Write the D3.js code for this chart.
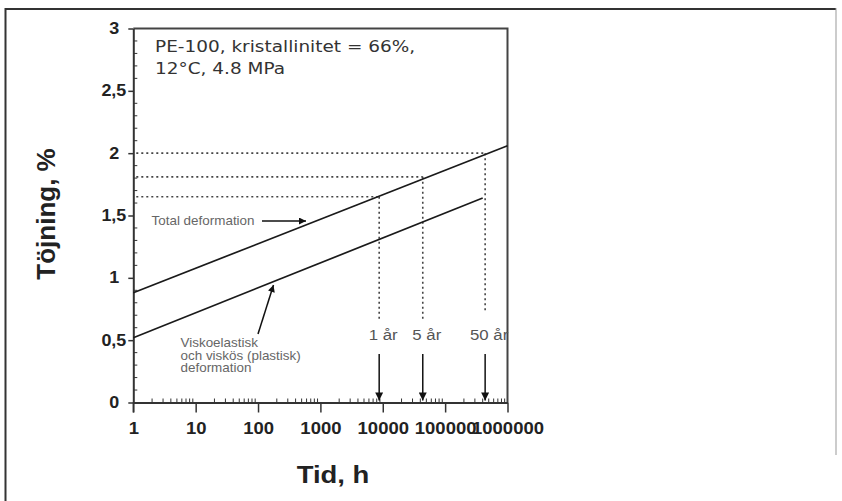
<!DOCTYPE html>
<html>
<head>
<meta charset="utf-8">
<script src="https://cdn.jsdelivr.net/npm/d3@7"></script>
<style>
  body { margin: 0; background: #fff; }
  svg { display: block; font-family: "Liberation Sans", Arial, sans-serif; }
  .tick text { font-family: "Liberation Sans", Arial, sans-serif; font-weight: bold; fill: #222; }
</style>
</head>
<body>
<svg width="842" height="501"></svg>
<script>
var width = 842;
var height = 501;

// Strain curves (time in hours, strain in %)
var totalTime = [1, 1000000];
var totalStrain = [0.88, 2.06];
var viscoTime = [1, 400000];
var viscoStrain = [0.52, 1.64];

// Service-life markers on the total deformation line
var markLabels = ["1 år", "5 år", "50 år"];
var markTime = [8760, 43800, 438000];
var markStrain = [1.65, 1.81, 2.0];
var dropEnd = [0.65, 0.66, 0.72];

var xTicks = [1, 10, 100, 1000, 10000, 100000, 1000000];
var yTicks = [0, 0.5, 1, 1.5, 2, 2.5, 3];

var infoLines = ["PE-100, kristallinitet = 66%,", "12°C, 4.8 MPa"];
var viscoLines = ["Viskoelastisk", "och viskös (plastisk)", "deformation"];

var plot = { l: 133.3, r: 507.5, t: 28.5, b: 402.5 };
var sx = 1.12; // type in this figure is set a bit wide

var svg = d3.select("svg");

var xScale = d3.scaleLog().domain([1, 1000000]).range([plot.l, plot.r]);
var yScale = d3.scaleLinear().domain([0, 3]).range([plot.b, plot.t]);

var defs = svg.append("defs");
defs.append("marker")
    .attr("id", "head")
    .attr("viewBox", "0 0 10 10")
    .attr("refX", 10)
    .attr("refY", 5)
    .attr("markerWidth", 12)
    .attr("markerHeight", 7)
    .attr("markerUnits", "userSpaceOnUse")
    .attr("orient", "auto")
    .append("path")
    .attr("d", "M0,0 L10,5 L0,10 Z")
    .attr("fill", "#111");
defs.append("marker")
    .attr("id", "headTall")
    .attr("viewBox", "0 0 10 10")
    .attr("refX", 10)
    .attr("refY", 5)
    .attr("markerWidth", 15)
    .attr("markerHeight", 8)
    .attr("markerUnits", "userSpaceOnUse")
    .attr("orient", "auto")
    .append("path")
    .attr("d", "M0,0 L10,5 L0,10 Z")
    .attr("fill", "#111");

// outer border
svg.append("line").attr("x1", 5.5).attr("y1", 9).attr("x2", 836).attr("y2", 9)
    .attr("stroke", "#333").attr("stroke-width", 2);
svg.append("line").attr("x1", 5.5).attr("y1", 8).attr("x2", 5.5).attr("y2", 501)
    .attr("stroke", "#333").attr("stroke-width", 2);
svg.append("line").attr("x1", 836).attr("y1", 8).attr("x2", 836).attr("y2", 455)
    .attr("stroke", "#999").attr("stroke-width", 1);

function wideText(parent, x, y, str) {
    return parent.append("text")
        .attr("transform", "translate(" + x + "," + y + ") scale(" + sx + ",1)")
        .text(str);
}

// frame top and right
svg.append("path")
    .attr("d", "M" + plot.l + "," + plot.t + "H" + plot.r + "V" + plot.b)
    .attr("fill", "none")
    .attr("stroke", "#444")
    .attr("stroke-width", 2);

// minor ticks
var xMinor = [];
for (var d = 1; d < 1000000; d *= 10) {
    for (var k = 2; k <= 9; k++) xMinor.push(d * k);
}
svg.append("g").selectAll("line")
    .data(xMinor)
    .enter()
    .append("line")
    .attr("x1", d => xScale(d)).attr("x2", d => xScale(d))
    .attr("y1", plot.b).attr("y2", plot.b - 4)
    .attr("stroke", "#333").attr("stroke-width", 1);

var yMinor = d3.range(1, 30).filter(i => i % 5 != 0).map(i => i / 10);
svg.append("g").selectAll("line")
    .data(yMinor)
    .enter()
    .append("line")
    .attr("x1", plot.l).attr("x2", plot.l + 4)
    .attr("y1", d => yScale(d)).attr("y2", d => yScale(d))
    .attr("stroke", "#333").attr("stroke-width", 1);

// axes
var xAxis = d3.axisBottom(xScale)
    .tickValues(xTicks)
    .tickFormat(d3.format("d"))
    .tickSize(10)
    .tickSizeOuter(0);
var gx = svg.append("g")
    .attr("transform", "translate(0," + plot.b + ")")
    .call(xAxis);
gx.select(".domain").attr("stroke", "#333").attr("stroke-width", 2);
gx.selectAll(".tick line").attr("stroke", "#333").attr("stroke-width", 1.5);
gx.selectAll(".tick text")
    .attr("y", 0)
    .attr("dy", 0)
    .attr("transform", "translate(0,31) scale(" + sx + ",1)")
    .style("font-size", "16.5px");

var yAxis = d3.axisLeft(yScale)
    .tickValues(yTicks)
    .tickFormat(d => (d % 1 == 0 ? String(d) : d3.format(".1f")(d).replace(".", ",")))
    .tickSize(5)
    .tickSizeOuter(0);
var gy = svg.append("g")
    .attr("transform", "translate(" + plot.l + ",0)")
    .call(yAxis);
gy.select(".domain").attr("stroke", "#333").attr("stroke-width", 2);
gy.selectAll(".tick line").attr("stroke", "#333").attr("stroke-width", 1.5);
gy.selectAll(".tick text")
    .attr("x", 0)
    .attr("transform", d => "translate(" + (d % 1 == 0 ? -14 : -7) + ",0) scale(" + sx + ",1)")
    .style("font-size", "16px");
// y axis runs on down to the major tick at x = 1
svg.append("line")
    .attr("x1", plot.l).attr("x2", plot.l)
    .attr("y1", plot.b).attr("y2", plot.b + 10)
    .attr("stroke", "#333").attr("stroke-width", 1.5);

// guide lines to the service-life markers
var marks = markTime.map((t, i) => ({ t: t, s: markStrain[i], end: dropEnd[i], label: markLabels[i] }));
var guides = svg.append("g")
    .attr("stroke", "#444")
    .attr("stroke-width", 1.6)
    .attr("stroke-dasharray", "2,3")
    .attr("fill", "none");
guides.selectAll(".h")
    .data(marks)
    .enter()
    .append("line")
    .attr("x1", plot.l + 3).attr("x2", d => xScale(d.t))
    .attr("y1", d => yScale(d.s)).attr("y2", d => yScale(d.s));
guides.selectAll(".v")
    .data(marks)
    .enter()
    .append("line")
    .attr("x1", d => xScale(d.t)).attr("x2", d => xScale(d.t))
    .attr("y1", d => yScale(d.s)).attr("y2", d => yScale(d.end));

// strain lines
var line = d3.line().x(d => xScale(d[0])).y(d => yScale(d[1]));
svg.append("path")
    .datum(totalTime.map((t, i) => [t, totalStrain[i]]))
    .attr("d", line)
    .attr("fill", "none").attr("stroke", "#1a1a1a").attr("stroke-width", 1.7);
svg.append("path")
    .datum(viscoTime.map((t, i) => [t, viscoStrain[i]]))
    .attr("d", line)
    .attr("fill", "none").attr("stroke", "#1a1a1a").attr("stroke-width", 1.7);

// marker labels and arrows down to the time axis
var markG = svg.append("g").selectAll("g")
    .data(marks)
    .enter()
    .append("g");
markG.append("line")
    .attr("x1", d => xScale(d.t)).attr("x2", d => xScale(d.t))
    .attr("y1", 354).attr("y2", plot.b - 2)
    .attr("stroke", "#111").attr("stroke-width", 1.5)
    .attr("marker-end", "url(#headTall)");
markG.each(function (d) {
    wideText(d3.select(this), xScale(d.t) + 4, 340, d.label)
        .attr("text-anchor", "middle")
        .style("font-size", "15px")
        .style("fill", "#555");
});

// annotations
infoLines.forEach((s, i) => wideText(svg, 155, 52 + i * 22, s)
    .style("font-family", "'DejaVu Sans', Verdana, sans-serif")
    .style("font-size", "16.5px")
    .style("fill", "#333"));

var small = svg.append("g")
    .style("font-size", "12px")
    .style("fill", "#666");
wideText(small, 151.5, 225, "Total deformation");
viscoLines.forEach((s, i) => wideText(small, 180.5, 347 + i * 12.5, s));

svg.append("line")
    .attr("x1", 262).attr("y1", 221).attr("x2", 306).attr("y2", 221)
    .attr("stroke", "#111").attr("stroke-width", 1.5)
    .attr("marker-end", "url(#head)");
svg.append("line")
    .attr("x1", 258).attr("y1", 334).attr("x2", 273.5).attr("y2", 285)
    .attr("stroke", "#111").attr("stroke-width", 1.5)
    .attr("marker-end", "url(#head)");

// axis titles
svg.append("text")
    .attr("transform", "translate(55,214) rotate(-90)")
    .attr("text-anchor", "middle")
    .style("font-size", "26px")
    .style("font-weight", "bold")
    .style("fill", "#222")
    .text("Töjning, %");
wideText(svg, 333, 483, "Tid, h")
    .attr("text-anchor", "middle")
    .style("font-size", "24.5px")
    .style("font-weight", "bold")
    .style("fill", "#222");
</script>
</body>
</html>
